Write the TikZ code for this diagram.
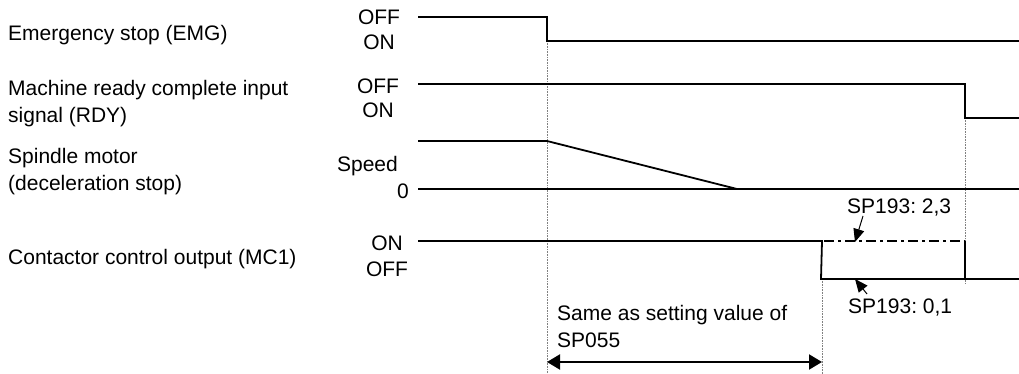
\documentclass[tikz,border=0pt]{standalone}
\usepackage{fontspec}
\setmainfont{Liberation Sans}
\usetikzlibrary{arrows.meta}
\frenchspacing
\begin{document}
\begin{tikzpicture}[x=1pt,y=-1pt,
  lbl/.style={inner sep=0pt,font=\fontsize{21}{27}\selectfont},
  sig/.style={line width=1.8pt,line join=miter},
  base/.style={line width=1pt},
  guide/.style={line width=0.6pt,gray,densely dotted},
  pointer/.style={line width=1pt,-{Triangle[length=13pt,width=11pt]}},
  span/.style={line width=2pt,{Triangle[length=13pt,width=15pt]}-{Triangle[length=13pt,width=15pt]}}]
\useasboundingbox (0,0) rectangle (1019,374);
% left labels
\node[lbl,anchor=west] (lemg) at (8,35) {Emergency stop (EMG)};
\node[lbl,anchor=west,align=left] (lrdy) at (8,103.5) {Machine ready complete input\\signal (RDY)};
\node[lbl,anchor=west,align=left] (lsp) at (8,171.5) {Spindle motor\\(deceleration stop)};
\node[lbl,anchor=west] (lmc) at (8,259) {Contactor control output (MC1)};
% level labels
\node[lbl] (eoff) at (379,17) {OFF};
\node[lbl] (eon) at (379,42) {ON};
\node[lbl] (roff) at (378,86) {OFF};
\node[lbl] (ron) at (378,110) {ON};
\node[lbl,anchor=east] (spd) at (398,166) {Speed};
\node[lbl,anchor=east] (zero) at (409,191) {0};
\node[lbl] (mon) at (387,243) {ON};
\node[lbl] (moff) at (387,269) {OFF};
% guide lines
\draw[guide] (547,41) -- (547,374);
\draw[guide] (965,118) -- (965,283);
\draw[guide] (822,279) -- (822,374);
% EMG
\draw[sig] (418,17) -- (547,17) -- (547,41) -- (1019,41);
% RDY
\draw[sig] (418,84) -- (965,84) -- (965,118) -- (1019,118);
% spindle
\draw[base] (418,189) -- (1019,189);
\draw[sig] (418,141) -- (547,141) -- (737,189) -- (1019,189);
% MC1
\draw[sig] (418,241) -- (822,241) -- (821,279) -- (1019,279);
\draw[line width=1.8pt,dash pattern=on 10pt off 4pt on 3pt off 4pt] (824,241) -- (965,241);
\draw[sig] (965,241) -- (965,279);
% annotations
\node[lbl,anchor=west] (sp23) at (847,208) {SP193: 2,3};
\node[lbl,anchor=west] (sp01) at (848,308) {SP193: 0,1};
\coordinate (p23) at (855,242);
\coordinate (p01) at (855,279);
\draw[pointer] (863,216) -- (p23);
\draw[pointer] (867,294) -- (p01);
\node[lbl,anchor=west] (same) at (557,315) {Same as setting value of};
\node[lbl,anchor=west] (sp055) at (557,340) {SP055};
\coordinate (a0) at (547,362);
\coordinate (a1) at (822,362);
\draw[span] (a0) -- (a1);
\end{tikzpicture}
\end{document}
